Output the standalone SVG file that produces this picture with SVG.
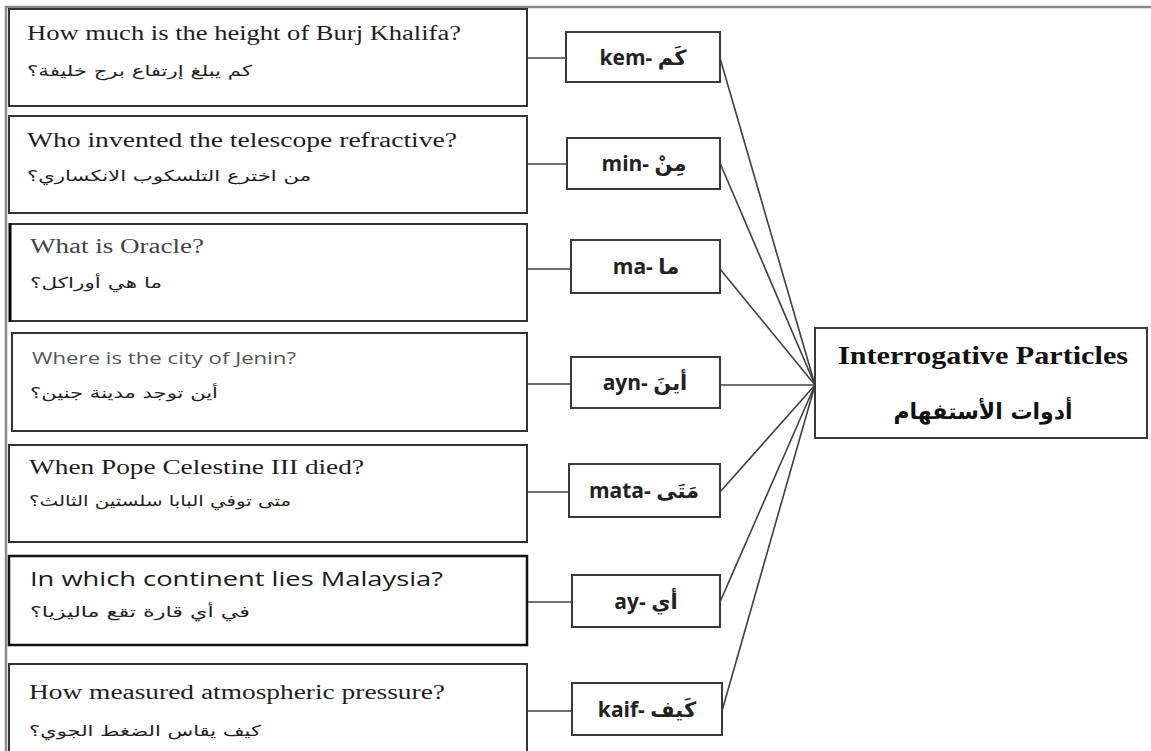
<svg xmlns="http://www.w3.org/2000/svg" width="1151" height="751" viewBox="0 0 1151 751">
<style>
.frame{fill:none;stroke:#8a8a8a;stroke-width:2.5}
.box{fill:#fff;stroke:#333;stroke-width:2}
.mbox{fill:#fff;stroke:#3a3a3a;stroke-width:2}
.en{font-family:"Liberation Serif","Times New Roman",serif;font-size:20px;fill:#1e1e1e}
.ensans{font-family:"Open Sans","Liberation Sans",sans-serif;fill:#222}
.ar{font-family:"DejaVu Sans","Noto Sans",sans-serif;font-size:15px;fill:#1e1e1e}
.lbl{font-family:"Open Sans","DejaVu Sans",sans-serif;font-size:21px;font-weight:bold;fill:#222}
.ttl{font-family:"Liberation Serif","Times New Roman",serif;font-size:25px;font-weight:bold;fill:#111}
.ttlar{font-family:"DejaVu Sans",sans-serif;font-size:22px;font-weight:bold;fill:#111}
.conn{fill:none;stroke:#3f3f3f;stroke-width:1.6}
</style>
<rect width="1151" height="751" fill="#fff"/>
<path class="frame" d="M6,751 V7 H1151"/>
<g id="connectors">
<line class="conn" x1="527" y1="58" x2="566" y2="58"/>
<line class="conn" x1="527" y1="164" x2="567" y2="164"/>
<line class="conn" x1="527" y1="269" x2="571" y2="269"/>
<line class="conn" x1="527" y1="384" x2="571" y2="384"/>
<line class="conn" x1="527" y1="492" x2="569" y2="492"/>
<line class="conn" x1="527" y1="602" x2="572" y2="602"/>
<line class="conn" x1="527" y1="711" x2="572" y2="711"/>
<line class="conn" x1="720" y1="58" x2="815" y2="385"/>
<line class="conn" x1="720" y1="163" x2="815" y2="385"/>
<line class="conn" x1="720" y1="269" x2="815" y2="385"/>
<line class="conn" x1="720" y1="385" x2="815" y2="385"/>
<line class="conn" x1="720" y1="492" x2="815" y2="385"/>
<line class="conn" x1="720" y1="602" x2="815" y2="385"/>
<line class="conn" x1="722" y1="711" x2="815" y2="385"/>
</g>
<g id="q1">
<rect class="box" x="9" y="9" width="518" height="97"/>
<text class="en" x="27" y="40" textLength="434" lengthAdjust="spacingAndGlyphs">How much is the height of Burj Khalifa?</text>
<text class="ar" x="27" y="76" textLength="225" lengthAdjust="spacingAndGlyphs">كم يبلغ إرتفاع برج خليفة؟</text>
</g>
<g id="q2">
<rect class="box" x="9" y="116" width="518" height="97"/>
<text class="en" x="27" y="147" textLength="430" lengthAdjust="spacingAndGlyphs">Who invented the telescope refractive?</text>
<text class="ar" x="27" y="181" textLength="284" lengthAdjust="spacingAndGlyphs">من اخترع التلسكوب الانكساري؟</text>
</g>
<g id="q3">
<rect class="box" x="10" y="224" width="517" height="97"/>
<line x1="10" y1="223" x2="10" y2="322" stroke="#000" stroke-width="3"/>
<text class="en" x="30" y="253" fill="#444" style="fill:#444" textLength="174" lengthAdjust="spacingAndGlyphs">What is Oracle?</text>
<text class="ar" x="30" y="288" textLength="132" lengthAdjust="spacingAndGlyphs">ما هي أوراكل؟</text>
</g>
<g id="q4">
<rect class="box" x="12" y="333" width="515" height="98"/>
<text class="ensans" x="32" y="364" font-size="17" style="fill:#555" textLength="264" lengthAdjust="spacingAndGlyphs">Where is the city of Jenin?</text>
<text class="ar" x="30" y="398" textLength="188" lengthAdjust="spacingAndGlyphs">أين توجد مدينة جنين؟</text>
</g>
<g id="q5">
<rect class="box" x="9" y="445" width="518" height="97"/>
<text class="en" x="29" y="474" textLength="335" lengthAdjust="spacingAndGlyphs">When Pope Celestine III died?</text>
<text class="ar" x="29" y="506" textLength="262" lengthAdjust="spacingAndGlyphs">متى توفي البابا سلستين الثالث؟</text>
</g>
<g id="q6">
<rect class="box" x="9" y="556" width="518" height="89" style="stroke:#111;stroke-width:2.5"/>
<text class="ensans" x="30" y="586" font-size="20" style="fill:#1a1a1a" textLength="413" lengthAdjust="spacingAndGlyphs">In which continent lies Malaysia?</text>
<text class="ar" x="30" y="617" font-size="16" textLength="220" lengthAdjust="spacingAndGlyphs">في أي قارة تقع ماليزيا؟</text>
</g>
<g id="q7">
<rect class="box" x="9" y="664" width="518" height="95"/>
<text class="en" x="29" y="699" textLength="416" lengthAdjust="spacingAndGlyphs">How measured atmospheric pressure?</text>
<text class="ar" x="29" y="736" textLength="232" lengthAdjust="spacingAndGlyphs">كيف يقاس الضغط الجوي؟</text>
</g>
<g id="p-kem">
<rect class="mbox" x="566" y="32" width="154" height="50"/>
<text class="lbl" x="643" y="65" text-anchor="middle">kem- كَم</text>
</g>
<g id="p-min">
<rect class="mbox" x="567" y="138" width="153" height="51"/>
<text class="lbl" x="644" y="171" text-anchor="middle">min- مِنْ</text>
</g>
<g id="p-ma">
<rect class="mbox" x="571" y="240" width="149" height="53"/>
<text class="lbl" x="646" y="274" text-anchor="middle">ma- ما</text>
</g>
<g id="p-ayn">
<rect class="mbox" x="571" y="357" width="149" height="51"/>
<text class="lbl" x="645" y="390" text-anchor="middle">ayn- أينَ</text>
</g>
<g id="p-mata">
<rect class="mbox" x="569" y="464" width="151" height="53"/>
<text class="lbl" x="644" y="498" text-anchor="middle">mata- مَتَى</text>
</g>
<g id="p-ay">
<rect class="mbox" x="572" y="575" width="148" height="52"/>
<text class="lbl" x="646" y="609" text-anchor="middle">ay- أي</text>
</g>
<g id="p-kaif">
<rect class="mbox" x="572" y="683" width="150" height="52"/>
<text class="lbl" x="647" y="717" text-anchor="middle">kaif- كَيف</text>
</g>
<g id="particles">
<rect class="mbox" x="815" y="328" width="332" height="110"/>
<text class="ttl" x="983" y="364" text-anchor="middle" textLength="290" lengthAdjust="spacingAndGlyphs">Interrogative Particles</text>
<text class="ttlar" x="983" y="419" text-anchor="middle">أدوات الأستفهام</text>
</g>
</svg>
